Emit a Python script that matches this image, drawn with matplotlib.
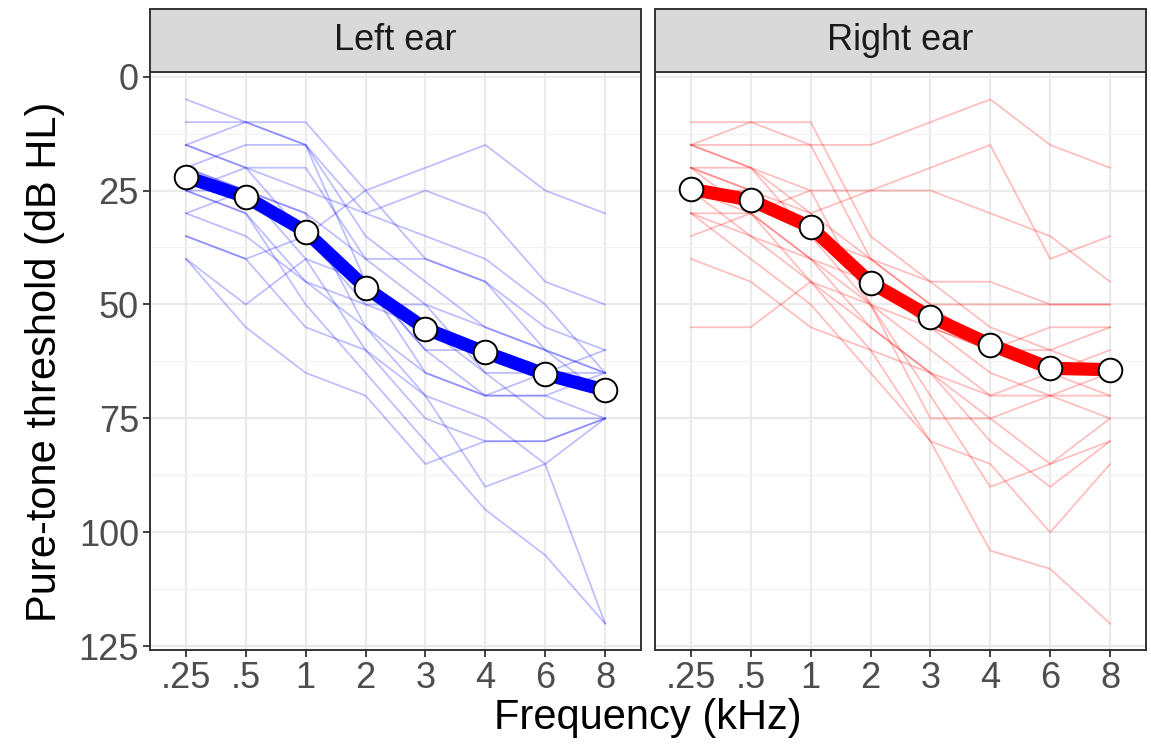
import matplotlib
matplotlib.use("Agg")
import matplotlib.pyplot as plt
from matplotlib.ticker import FixedLocator

plt.rcParams['font.family'] = ['Liberation Sans', 'DejaVu Sans']

freq_labels = [".25", ".5", "1", "2", "3", "4", "6", "8"]
panels = ["Left ear", "Right ear"]

left_mean = [22, 26.4, 34, 46.3, 55.3, 60.5, 65.3, 68.8]
right_mean = [24.7, 27.1, 33, 45.2, 52.7, 58.8, 64, 64.3]

left_subjects = [
    [5, 10, 15, 35, 45, 55, 60, 65],
    [10, 10, 10, 25, 40, 45, 55, 60],
    [15, 10, 15, 30, 35, 40, 50, 65],
    [15, 20, 25, 30, 25, 30, 45, 50],
    [20, 15, 15, 45, 60, 70, 70, 75],
    [20, 25, 35, 25, 20, 15, 25, 30],
    [25, 20, 20, 40, 40, 45, 60, 70],
    [25, 30, 45, 50, 55, 65, 75, 75],
    [20, 25, 30, 55, 65, 70, 65, 60],
    [30, 25, 30, 40, 50, 65, 65, 65],
    [35, 40, 35, 45, 65, 70, 70, 65],
    [35, 40, 55, 60, 75, 80, 80, 75],
    [40, 50, 40, 60, 70, 90, 85, 75],
    [40, 55, 65, 70, 85, 80, 80, 75],
    [25, 30, 50, 65, 80, 95, 105, 120],
    [30, 35, 45, 55, 70, 75, 85, 120],
    [15, 20, 35, 50, 50, 55, 60, 65],
    [25, 25, 40, 45, 60, 60, 65, 70],
]

right_subjects = [
    [10, 10, 10, 35, 45, 55, 60, 65],
    [15, 10, 15, 40, 50, 60, 65, 70],
    [15, 15, 15, 15, 10, 5, 15, 20],
    [20, 20, 30, 25, 20, 15, 40, 35],
    [15, 20, 25, 25, 25, 30, 35, 45],
    [20, 25, 30, 40, 45, 45, 50, 50],
    [25, 25, 35, 40, 50, 50, 50, 50],
    [30, 30, 25, 50, 55, 60, 60, 55],
    [30, 35, 40, 45, 55, 65, 70, 65],
    [35, 30, 40, 50, 60, 70, 65, 60],
    [40, 45, 55, 60, 65, 70, 70, 75],
    [55, 55, 45, 55, 65, 80, 90, 80],
    [20, 30, 40, 55, 65, 75, 85, 80],
    [25, 35, 45, 60, 80, 85, 100, 85],
    [30, 40, 50, 65, 80, 104, 108, 120],
    [20, 25, 35, 50, 75, 75, 70, 70],
    [25, 30, 45, 50, 70, 90, 85, 75],
    [15, 20, 35, 45, 55, 60, 55, 55],
]

y_ticks = [0, 25, 50, 75, 100, 125]
y_minor = [12.5, 37.5, 62.5, 87.5, 112.5]

W, H = 1151, 746
fig = plt.figure(figsize=(W / 100, H / 100), dpi=100)

def fx(px):
    return px / W

def fy(py):
    return 1 - py / H

panel_top, panel_bot = 72, 650
strip_top = 9
boxes = [(150, 641), (655, 1146)]
colors = ["#0000FF", "#FF0000"]
subjects_all = [left_subjects, right_subjects]
means_all = [left_mean, right_mean]

x = list(range(len(freq_labels)))
for i, (x0, x1) in enumerate(boxes):
    ax = fig.add_axes([fx(x0), fy(panel_bot), fx(x1) - fx(x0), fy(panel_top) - fy(panel_bot)])
    ax.set_xlim(-0.6, 7.6)
    ax.set_ylim(125.8, -1.0)
    ax.set_xticks(x)
    ax.set_xticklabels(freq_labels)
    ax.set_yticks(y_ticks)
    ax.yaxis.set_minor_locator(FixedLocator(y_minor))
    ax.grid(True, which='major', color='#EBEBEB', lw=1.6, zorder=0)
    ax.grid(True, which='minor', axis='y', color='#F2F2F2', lw=0.9, zorder=0)
    ax.set_axisbelow(True)
    for s in ax.spines.values():
        s.set_color('#333333')
        s.set_linewidth(1.4)
    ax.tick_params(axis='both', which='major', length=5, width=1.3, color='#333333',
                   labelsize=26, labelcolor='#4D4D4D', pad=3)
    ax.tick_params(axis='both', which='minor', length=0)
    if i == 1:
        ax.tick_params(axis='y', labelleft=False, length=0)
    for subj in subjects_all[i]:
        ax.plot(x, subj, color=colors[i], alpha=0.25, lw=1.3, zorder=2)
    ax.plot(x, means_all[i], color=colors[i], lw=9.5, zorder=3, solid_capstyle='butt')
    ax.plot(x, means_all[i], 'o', ms=17, mfc='white', mec='black', mew=1.4, zorder=4)

    sax = fig.add_axes([fx(x0), fy(panel_top), fx(x1) - fx(x0), fy(strip_top) - fy(panel_top)])
    sax.set_facecolor('#D9D9D9')
    sax.set_xticks([])
    sax.set_yticks([])
    for s in sax.spines.values():
        s.set_color('#333333')
        s.set_linewidth(1.4)
    sax.text(0.5, 0.5, panels[i], ha='center', va='center', fontsize=26,
             color='#1A1A1A', transform=sax.transAxes)

fig.text(fx(648), fy(718), "Frequency (kHz)", ha='center', va='center', fontsize=30, color='black')
fig.text(fx(45), fy(362), "Pure-tone threshold (dB HL)", ha='center', va='center',
         rotation=90, fontsize=30, color='black')

fig.savefig("out.png", dpi=100)
